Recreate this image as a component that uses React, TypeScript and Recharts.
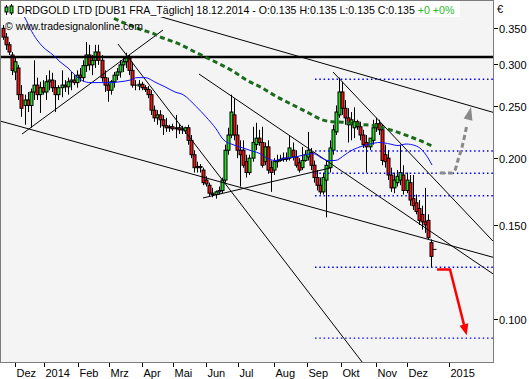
import React from 'react';
import { ComposedChart, Bar, Line, XAxis, YAxis, CartesianGrid, ReferenceDot } from 'recharts';

// ---- daily (2-session) candles: open / high / low / close in EUR ----
const openP = [0.350,0.337,0.326,0.312,0.290,0.295,0.263,0.251,0.257,0.251,
0.266,0.274,0.263,0.271,0.266,0.278,0.280,0.271,0.263,0.271,
0.274,0.272,0.278,0.280,0.277,0.286,0.283,0.298,0.312,0.299,
0.305,0.316,0.305,0.283,0.274,0.268,0.278,0.286,0.290,0.299,
0.303,0.308,0.292,0.274,0.273,0.275,0.271,0.269,0.263,0.246,
0.238,0.241,0.236,0.230,0.228,0.229,0.227,0.228,0.226,0.225,
0.228,0.216,0.203,0.192,0.193,0.190,0.182,0.178,0.172,0.171,
0.173,0.174,0.182,0.207,0.221,0.241,0.221,0.207,0.207,0.197,
0.188,0.200,0.212,0.218,0.214,0.197,0.210,0.192,0.190,0.197,
0.198,0.199,0.200,0.200,0.207,0.201,0.196,0.192,0.198,0.201,
0.205,0.194,0.184,0.178,0.173,0.182,0.192,0.207,0.224,0.241,
0.266,0.248,0.238,0.231,0.228,0.234,0.229,0.221,0.214,0.210,
0.216,0.228,0.232,0.226,0.203,0.200,0.186,0.176,0.180,0.182,
0.186,0.174,0.180,0.168,0.165,0.161,0.157,0.152,0.153,0.139,
0.135];
const highP = [0.355,0.343,0.330,0.316,0.308,0.299,0.274,0.263,0.266,0.270,
0.305,0.283,0.278,0.280,0.286,0.292,0.289,0.280,0.274,0.292,
0.280,0.283,0.290,0.286,0.292,0.295,0.305,0.330,0.326,0.312,
0.326,0.326,0.312,0.292,0.283,0.280,0.290,0.295,0.305,0.308,
0.315,0.312,0.303,0.280,0.280,0.278,0.274,0.273,0.268,0.251,
0.246,0.246,0.241,0.238,0.231,0.232,0.241,0.232,0.230,0.229,
0.231,0.221,0.207,0.197,0.195,0.192,0.185,0.180,0.176,0.174,
0.177,0.184,0.212,0.228,0.263,0.259,0.231,0.216,0.216,0.203,
0.203,0.229,0.233,0.226,0.229,0.214,0.216,0.198,0.200,0.203,
0.203,0.205,0.205,0.221,0.214,0.207,0.200,0.210,0.207,0.224,
0.209,0.198,0.190,0.184,0.188,0.198,0.216,0.231,0.251,0.283,
0.278,0.257,0.248,0.244,0.249,0.236,0.234,0.226,0.221,0.218,
0.236,0.238,0.236,0.231,0.212,0.207,0.192,0.188,0.190,0.212,
0.194,0.188,0.186,0.186,0.171,0.167,0.163,0.176,0.157,0.141,
0.135];
const lowP = [0.333,0.319,0.312,0.286,0.280,0.257,0.239,0.231,0.244,0.228,
0.257,0.257,0.243,0.263,0.257,0.268,0.266,0.244,0.257,0.260,
0.266,0.263,0.268,0.274,0.271,0.278,0.278,0.290,0.292,0.286,
0.295,0.299,0.278,0.266,0.255,0.263,0.271,0.280,0.283,0.290,
0.295,0.286,0.271,0.268,0.268,0.268,0.266,0.259,0.241,0.234,
0.231,0.228,0.221,0.224,0.224,0.225,0.218,0.222,0.222,0.222,
0.212,0.200,0.188,0.188,0.188,0.178,0.177,0.170,0.169,0.168,
0.171,0.172,0.180,0.203,0.218,0.216,0.200,0.177,0.192,0.184,
0.186,0.197,0.207,0.211,0.192,0.194,0.187,0.173,0.186,0.192,
0.197,0.197,0.197,0.198,0.198,0.192,0.188,0.190,0.197,0.198,
0.190,0.180,0.174,0.171,0.171,0.155,0.188,0.203,0.221,0.238,
0.241,0.231,0.214,0.216,0.218,0.226,0.216,0.209,0.188,0.207,
0.212,0.224,0.221,0.194,0.192,0.182,0.173,0.172,0.177,0.178,
0.171,0.172,0.163,0.160,0.157,0.150,0.147,0.145,0.141,0.125,
0.135];
const closeP = [0.337,0.326,0.316,0.292,0.303,0.263,0.248,0.257,0.251,0.266,
0.274,0.263,0.271,0.266,0.278,0.280,0.271,0.263,0.271,0.274,
0.272,0.278,0.280,0.277,0.286,0.283,0.298,0.312,0.299,0.305,
0.316,0.305,0.283,0.274,0.268,0.278,0.286,0.290,0.299,0.303,
0.308,0.292,0.274,0.273,0.275,0.271,0.269,0.263,0.246,0.238,
0.241,0.236,0.230,0.228,0.229,0.227,0.228,0.226,0.227,0.228,
0.216,0.203,0.192,0.193,0.192,0.180,0.179,0.172,0.171,0.173,
0.174,0.182,0.207,0.221,0.244,0.221,0.207,0.203,0.194,0.188,
0.200,0.214,0.218,0.214,0.194,0.210,0.190,0.188,0.197,0.198,
0.199,0.200,0.199,0.209,0.201,0.194,0.190,0.198,0.203,0.207,
0.194,0.184,0.178,0.173,0.184,0.194,0.209,0.226,0.244,0.266,
0.248,0.238,0.231,0.236,0.234,0.229,0.221,0.212,0.210,0.218,
0.228,0.232,0.226,0.198,0.197,0.186,0.176,0.182,0.185,0.188,
0.174,0.182,0.167,0.163,0.159,0.153,0.152,0.150,0.142,0.131,
0.135];

// ---- moving averages (slot, price) ----
const ma50Slots = [4.22,7.14,8.77,11.04,12.99,16.23,18.50,21.10,23.37,25.97,28.24,31.49,34.74,37.98,41.23,43.50,46.10,49.67,52.59,55.84,58.44,62.66,65.90,69.15,71.43,74.67,77.91,81.16,83.43,85.06,88.30,91.55,94.80,98.04,100.64,103.56,105.51,107.78,111.03,112.65,115.90,119.14,122.39,125.64,128.23,130.83,133.76,135.70,137.98,139.27];
const ma50Vals = [0.382,0.366,0.350,0.333,0.323,0.312,0.303,0.295,0.286,0.279,0.277,0.277,0.277,0.278,0.280,0.283,0.283,0.277,0.272,0.266,0.263,0.250,0.239,0.227,0.217,0.212,0.209,0.206,0.204,0.201,0.198,0.200,0.201,0.203,0.204,0.200,0.198,0.198,0.203,0.206,0.210,0.2126,0.214,0.2126,0.2112,0.2126,0.2112,0.2081,0.2002,0.1942];
const ma200Slots = [34.09,35.06,37.98,40.26,45.45,48.38,50.97,53.57,56.39,62.33,68.82,74.25,79.11,83.99,88.85,94.15,99.02,103.89,106.81,109.40,115.25,121.32,126.61,131.48,137.00,139.60];
const ma200Vals = [0.375,0.3695,0.361,0.3565,0.347,0.343,0.3375,0.333,0.3286,0.316,0.303,0.292,0.280,0.271,0.2607,0.2515,0.2433,0.2357,0.2340,0.2337,0.2316,0.2296,0.2251,0.2201,0.2138,0.2104];

// ---- trend lines: [slot, price] endpoints ----
const trendA = [[-1, 0.2348], [159.07, 0.1305]];
const trendC = [[6.17, 0.2219], [51.94, 0.3474]];
const trendD = [[37.33, 0.3271], [119.14, 0.0795]];
const trendE = [[63.63, 0.2874], [159.07, 0.1215]];
const trendF = [[64.93, 0.1685], [106.16, 0.1917]];
const trendG = [[107.13, 0.2899], [159.07, 0.1399]];
const trendH = [[37.98, 0.387], [159.07, 0.2437]];
const resistance = [[-1, 0.3093], [160, 0.3093]];
const fibLevels = [0.2810, 0.2063, 0.1874, 0.1701, 0.1250, 0.0921];
const fibStart = 101.29;
const fibEnd = 160;

// ---- forecast arrows ----
const redArrow = [[140.89, 0.1238], [145.11, 0.1238], [149.66, 0.0975]];
const redTip = [150.54, 0.0933];
const grayArrow = [[141.87, 0.1876], [145.77, 0.1876], [146.74, 0.1900], [147.71, 0.1984], [149.01, 0.2098], [149.99, 0.2219], [150.64, 0.2317]];
const grayTip = [151.94, 0.2494];

// ---- axes ----
const monthTicks = [3.99, 13.21, 24.25, 34.41, 45.03, 55.29, 65.90, 76.39, 87.98, 98.59, 109.83, 121.09, 131.06, 144.79];
const monthLabels = ['Dez', '2014', 'Feb', 'Mrz', 'Apr', 'Mai', 'Jun', 'Jul', 'Aug', 'Sep', 'Okt', 'Nov', 'Dez', '2015'];
const priceTicks = [0.1, 0.15, 0.2, 0.25, 0.3, 0.35];
const X_MIN = -0.649, X_MAX = 159.07;
const Y_MIN = 0.083106, Y_MAX = 0.39371;

const FONT = "'Liberation Sans', Arial, sans-serif";
const GREEN = '#22dd22';
const RED = '#ee1111';

const candles = openP.map((o, i) => ({ x: i, o, h: highP[i], l: lowP[i], c: closeP[i], range: [lowP[i], highP[i]] }));
const pts = (arr: number[][]) => arr.map(([x, v]) => ({ x, v }));
const zip = (xs: number[], vs: number[]) => xs.map((x, i) => ({ x, v: vs[i] }));

const renderCandle = (props: any) => {
  const { x, y, width, height, payload } = props;
  if (x == null || y == null || !payload) return <g />;
  const cx = Math.round(x + width / 2);
  const top = Math.min(y, y + (height || 0));
  const bot = Math.max(y, y + (height || 0));
  const { o, h, l, c } = payload;
  const lh = Math.log(h), ll = Math.log(l);
  const yOf = (p: number) => (lh === ll ? top : top + ((lh - Math.log(p)) / (lh - ll)) * (bot - top));
  const yo = yOf(o), yc = yOf(c);
  const bt = Math.min(yo, yc), bb = Math.max(yo, yc);
  const fill = c > o ? GREEN : RED;
  return (
    <g>
      <line x1={cx + 0.5} x2={cx + 0.5} y1={top} y2={bot} stroke="#000" strokeWidth={1} />
      {bb - bt < 1 ? (
        <line x1={cx - 1.5} x2={cx + 2.5} y1={bt} y2={bt} stroke="#000" strokeWidth={1} />
      ) : (
        <rect x={cx - 1} y={bt} width={3} height={bb - bt} fill={fill} stroke="#000" strokeWidth={1} />
      )}
    </g>
  );
};

const XTick = (props: any) => {
  const { x, y, payload } = props;
  const idx = monthTicks.indexOf(payload.value);
  const label = idx >= 0 ? monthLabels[idx] : '';
  const px = Math.round(x) + 0.5;
  return (
    <g>
      <line x1={px} x2={px} y1={y + 1} y2={y + 5} stroke="#000" strokeWidth={1} />
      <text x={px + 1} y={y + 15} fontSize={11} fontFamily={FONT} fill="#000">{label}</text>
    </g>
  );
};

const YTick = (props: any) => {
  const { x, y, payload } = props;
  const py = Math.round(y) + 0.5;
  return (
    <g>
      <line x1={x + 1} x2={x + 5} y1={py} y2={py} stroke="#000" strokeWidth={1} />
      <text x={x + 6} y={py + 4} fontSize={11} fontFamily={FONT} fill="#000">{Number(payload.value).toFixed(3)}</text>
    </g>
  );
};

const arrowHead = (dx: number, dy: number, len: number, half: number, color: string) => (props: any) => {
  const { cx, cy } = props;
  if (cx == null || cy == null) return <g />;
  const bx = cx - dx * len, by = cy - dy * len;
  const nx = -dy * half, ny = dx * half;
  return <polygon points={`${cx},${cy} ${bx + nx},${by + ny} ${bx - nx},${by - ny}`} fill={color} />;
};

const thinLine = (arr: number[][], key: string) => (
  <Line key={key} data={pts(arr)} dataKey="v" type="linear" stroke="#000" strokeWidth={1} dot={false} activeDot={false} isAnimationActive={false} />
);

export default function App() {
  return (
    <div style={{ position: 'absolute', left: 0, top: 0, width: 529, height: 379, background: '#ffffff' }}>
      <ComposedChart width={529} height={379} data={candles} margin={{ top: 1, right: 0, bottom: 0, left: 1 }}>
        <CartesianGrid horizontal={false} vertical={false} fill="#f4f4f4" stroke="none" />
        <XAxis type="number" dataKey="x" domain={[X_MIN, X_MAX]} allowDataOverflow ticks={monthTicks} interval={0}
          tick={(p: any) => <XTick {...p} />} tickLine={false} axisLine={false} tickSize={0} tickMargin={0} height={17} />
        <YAxis type="number" orientation="right" width={36} scale="log" domain={[Y_MIN, Y_MAX]} allowDataOverflow
          ticks={priceTicks} interval={0} tick={(p: any) => <YTick {...p} />} tickLine={false} axisLine={false} tickSize={0} tickMargin={0} />
        <Bar dataKey="range" barSize={3} shape={renderCandle} isAnimationActive={false} />
        {fibLevels.map((lv, i) => (
          <Line key={'fib' + i} data={[{ x: fibStart, v: lv }, { x: fibEnd, v: lv }]} dataKey="v" type="linear" stroke="#0000ff"
            strokeWidth={1.4} strokeDasharray="1.5 2.8" dot={false} activeDot={false} isAnimationActive={false} />
        ))}
        <Line data={pts(resistance)} dataKey="v" type="linear" stroke="#000" strokeWidth={2.5} dot={false} activeDot={false} isAnimationActive={false} />
        {thinLine(trendA, 'A')}
        {thinLine(trendC, 'C')}
        {thinLine(trendD, 'D')}
        {thinLine(trendE, 'E')}
        {thinLine(trendF, 'F')}
        {thinLine(trendG, 'G')}
        {thinLine(trendH, 'H')}
        <Line data={zip(ma50Slots, ma50Vals)} dataKey="v" type="monotone" stroke="#1010ff" strokeWidth={1} dot={false} activeDot={false} isAnimationActive={false} />
        <Line data={zip(ma200Slots, ma200Vals)} dataKey="v" type="monotone" stroke="#1c6a1c" strokeWidth={3} strokeDasharray="5 3.3" dot={false} activeDot={false} isAnimationActive={false} />
        <Line data={pts(grayArrow)} dataKey="v" type="monotone" stroke="#8a8a8a" strokeWidth={3} strokeDasharray="5 3" dot={false} activeDot={false} isAnimationActive={false} />
        <Line data={pts(redArrow)} dataKey="v" type="linear" stroke="#ff0000" strokeWidth={2.5} dot={false} activeDot={false} isAnimationActive={false} />
        <ReferenceDot x={redTip[0]} y={redTip[1]} r={1} ifOverflow="visible" shape={arrowHead(0.254, 0.967, 11, 4.5, '#ff0000')} />
        <ReferenceDot x={grayTip[0]} y={grayTip[1]} r={1} ifOverflow="visible" shape={arrowHead(0.229, -0.973, 13, 4.5, '#8a8a8a')} />
      </ComposedChart>
      <svg width={529} height={379} style={{ position: 'absolute', left: 0, top: 0, pointerEvents: 'none' }}>
        <rect x={0.5} y={0.5} width={493} height={362} fill="none" stroke="#7c7c7c" strokeWidth={1} />
        <rect x={2} y={1} width={458} height={16} fill="#ffffff" />
        <line x1={6.5} x2={6.5} y1={5} y2={15} stroke="#000" />
        <rect x={5} y={7} width={3} height={5} fill={GREEN} stroke="#000" />
        <line x1={11.5} x2={11.5} y1={4} y2={15} stroke="#000" />
        <rect x={10} y={6} width={3} height={7} fill={GREEN} stroke="#000" />
        <text x={17} y={14} fontSize={10.6} fontFamily={FONT} fill="#000">
          DRDGOLD LTD [DUB1 FRA_Täglich] 18.12.2014 - O:0.135 H:0.135 L:0.135 C:0.135{' '}
          <tspan fill="#1fb81f">+0 +0%</tspan>
        </text>
        <text x={5} y={30} fontSize={10.5} fontFamily={FONT} fill="#000">© www.tradesignalonline.com</text>
        <text x={497} y={13} fontSize={11} fontFamily={FONT} fill="#000">€</text>
      </svg>
    </div>
  );
}
